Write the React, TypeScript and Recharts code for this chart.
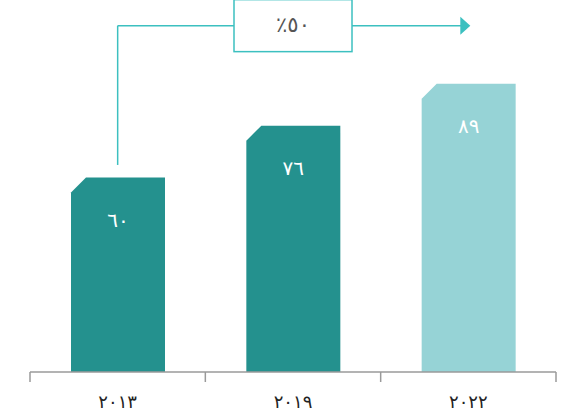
import React from 'react';
import { BarChart, Bar, XAxis, YAxis, Cell, LabelList, ReferenceLine, ReferenceDot } from 'recharts';

// Survey years, values and bar colours
const years = ['٢٠١٣', '٢٠١٩', '٢٠٢٢'];
const values = [60, 76, 89];
const barColors = ['#24918E', '#24918E', '#96D3D6'];

// Growth annotation between the first and last year
const growthText = '٪٥٠';
const annotationLevel = 106.9; // value-axis level of the connector line
const connectorStart = 63.9; // where the vertical connector leaves the first bar

const data = years.map((year, i) => ({ year, value: values[i] }));

const ARABIC_DIGITS = ['٠', '١', '٢', '٣', '٤', '٥', '٦', '٧', '٨', '٩'];
const toArabicDigits = (n: number) =>
  String(n).replace(/[0-9]/g, (d) => ARABIC_DIGITS[Number(d)]);

const FONT = '"DejaVu Sans", sans-serif';
const LINE = '#3CC0C0';
const AXIS = '#9a9a9a';

// Bar with its top-left corner cut off
const ChamferBar = (props: any) => {
  const { x, y, width, height, fill } = props;
  const c = Math.min(15, height);
  const d = `M${x},${y + c} L${x + c},${y} L${x + width},${y} L${x + width},${y + height} L${x},${y + height} Z`;
  return <path d={d} fill={fill} />;
};

const ValueLabel = (props: any) => {
  const { x, y, width, value } = props;
  return (
    <text
      x={x + width / 2}
      y={y + 44}
      fill="#ffffff"
      fontSize={20}
      letterSpacing={2}
      fontFamily={FONT}
      textAnchor="middle"
      dominantBaseline="middle"
    >
      {toArabicDigits(value)}
    </text>
  );
};

// Year label with separator ticks on the category boundaries
const YearTick = (props: any) => {
  const { x, y, payload, index, visibleTicksCount } = props;
  const half = payload.offset || 0;
  return (
    <g>
      <line x1={x - half} y1={y} x2={x - half} y2={y + 10} stroke={AXIS} strokeWidth={1.5} />
      {index === visibleTicksCount - 1 && (
        <line x1={x + half} y1={y} x2={x + half} y2={y + 10} stroke={AXIS} strokeWidth={1.5} />
      )}
      <text
        x={x}
        y={y + 36}
        fill="#222222"
        fontSize={18}
        letterSpacing={2}
        fontFamily={FONT}
        textAnchor="middle"
      >
        {payload.value}
      </text>
    </g>
  );
};

const GrowthBox = (props: any) => {
  const { cx, cy } = props;
  const w = 118;
  const h = 52;
  return (
    <g>
      <rect x={cx - w / 2} y={cy - h / 2} width={w} height={h} fill="#ffffff" stroke={LINE} strokeWidth={1.5} />
      <text
        x={cx}
        y={cy}
        fill="#555555"
        fontSize={21}
        letterSpacing={1}
        fontFamily={FONT}
        textAnchor="middle"
        dominantBaseline="middle"
      >
        {growthText}
      </text>
    </g>
  );
};

const ArrowHead = (props: any) => {
  const { cx, cy } = props;
  const tip = cx + 2;
  return <path d={`M${tip - 10},${cy - 9} L${tip},${cy} L${tip - 10},${cy + 9} Z`} fill={LINE} />;
};

export default function App() {
  return (
    <div style={{ position: 'absolute', left: 0, top: 0, fontFamily: FONT }}>
      <BarChart
        width={569}
        height={419}
        data={data}
        margin={{ top: 48, right: 13, left: 30, bottom: 0 }}
      >
        <XAxis
          dataKey="year"
          axisLine={{ stroke: AXIS, strokeWidth: 1.5 }}
          tickLine={false}
          tickSize={0}
          tickMargin={0}
          height={47}
          interval={0}
          tick={<YearTick />}
        />
        <YAxis hide domain={[0, 100]} />
        <Bar dataKey="value" barSize={94} shape={<ChamferBar />} isAnimationActive={false}>
          {data.map((d, i) => (
            <Cell key={d.year} fill={barColors[i]} />
          ))}
          <LabelList dataKey="value" content={<ValueLabel />} />
        </Bar>
        <ReferenceLine
          segment={[
            { x: years[0], y: connectorStart },
            { x: years[0], y: annotationLevel },
          ]}
          stroke={LINE}
          strokeWidth={1.5}
          ifOverflow="visible"
        />
        <ReferenceLine
          segment={[
            { x: years[0], y: annotationLevel },
            { x: years[2], y: annotationLevel },
          ]}
          stroke={LINE}
          strokeWidth={1.5}
          ifOverflow="visible"
        />
        <ReferenceDot x={years[2]} y={annotationLevel} ifOverflow="visible" shape={<ArrowHead />} />
        <ReferenceDot x={years[1]} y={annotationLevel} ifOverflow="visible" shape={<GrowthBox />} />
      </BarChart>
    </div>
  );
}
